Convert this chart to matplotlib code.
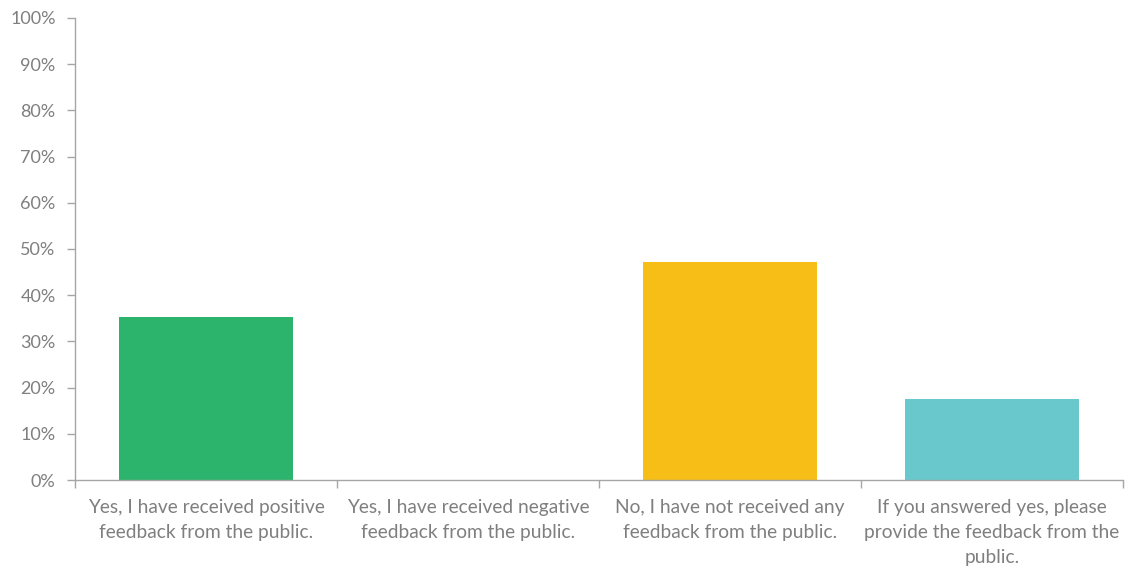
import matplotlib.pyplot as plt
from matplotlib.ticker import PercentFormatter, FixedLocator

categories = [
    'Yes, I have received positive\nfeedback from the public.',
    'Yes, I have received negative\nfeedback from the public.',
    'No, I have not received any\nfeedback from the public.',
    'If you answered yes, please\nprovide the feedback from the\npublic.',
]
values = [35.3, 0.0, 47.1, 17.6]
colors = ['#2DB46C', '#F6BE17', '#F6BE17', '#69C8CC']

plt.rcParams['font.family'] = ['Lato', 'DejaVu Sans']
gray = '#7F7F7F'

fig = plt.figure(figsize=(11.3, 5.69), dpi=100)
ax = fig.add_axes([0.0664, 0.1564, 0.9274, 0.812])

x = list(range(len(categories)))
ax.bar(x, values, width=0.665, color=colors)

ax.set_xlim(-0.5, len(categories) - 0.5)
ax.set_ylim(0, 100)
ax.set_yticks(range(0, 101, 10))
ax.yaxis.set_major_formatter(PercentFormatter(decimals=0))

ax.set_xticks(x)
ax.set_xticklabels(categories, fontsize=13.8, color=gray, linespacing=1.55)
ax.tick_params(axis='x', which='major', length=0, pad=14)
ax.xaxis.set_minor_locator(FixedLocator([i - 0.5 for i in range(len(categories) + 1)]))
ax.tick_params(axis='x', which='minor', length=6, color='#A6A6A6', width=1)
ax.tick_params(axis='y', labelsize=13, labelcolor=gray, length=6, color='#A6A6A6', width=1, pad=8)

for side in ['top', 'right']:
    ax.spines[side].set_visible(False)
for side in ['left', 'bottom']:
    ax.spines[side].set_color('#A6A6A6')
    ax.spines[side].set_linewidth(1)

plt.savefig('out.png')
